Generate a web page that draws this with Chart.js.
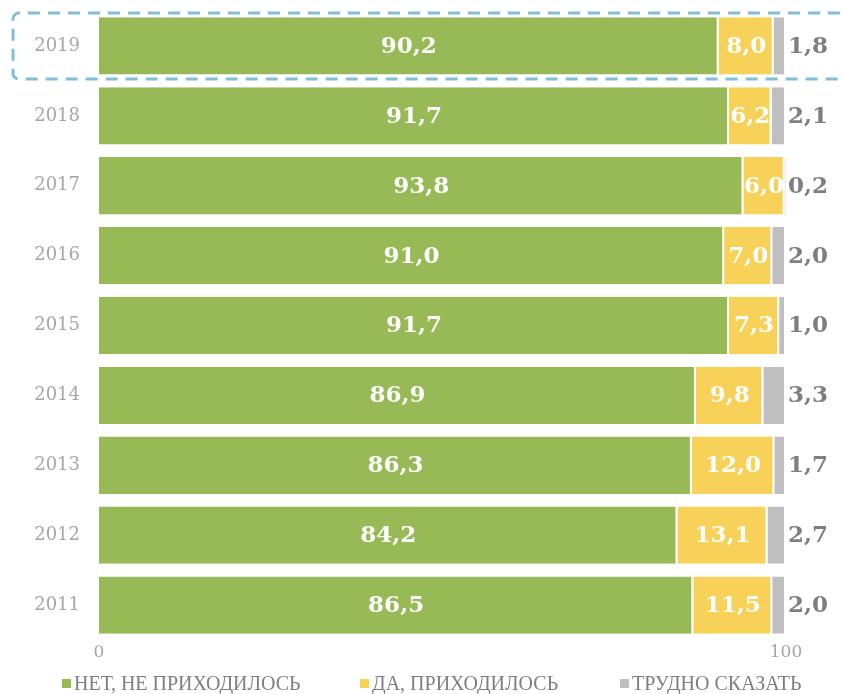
<!DOCTYPE html>
<html>
<head>
<meta charset="utf-8">
<script src="https://cdn.jsdelivr.net/npm/chart.js@4/dist/chart.umd.min.js"></script>
<style>
html,body{margin:0;padding:0;background:#fff;}
#wrap{width:842px;height:694px;position:relative;}
</style>
</head>
<body>
<div id="wrap"><canvas id="c" width="842" height="694"></canvas></div>
<script>
const years = ['2019','2018','2017','2016','2015','2014','2013','2012','2011'];
const seriesNo = [90.2, 91.7, 93.8, 91.0, 91.7, 86.9, 86.3, 84.2, 86.5];
const seriesYes = [8.0, 6.2, 6.0, 7.0, 7.3, 9.8, 12.0, 13.1, 11.5];
const seriesHard = [1.8, 2.1, 0.2, 2.0, 1.0, 3.3, 1.7, 2.7, 2.0];
const seriesNames = ['НЕТ, НЕ ПРИХОДИЛОСЬ', 'ДА, ПРИХОДИЛОСЬ', 'ТРУДНО СКАЗАТЬ'];
const seriesColors = ['#97b956', '#f7d158', '#bfbfbf'];
const xTicks = [0, 100];

const fmt = v => v.toFixed(1).replace('.', ',');

const labelPlugin = {
  id: 'segLabels',
  afterDatasetsDraw(chart) {
    const ctx = chart.ctx;
    ctx.save();
    ctx.font = 'bold 23px "DejaVu Serif", serif';
    ctx.textBaseline = 'middle';
    chart.data.datasets.forEach((ds, di) => {
      const meta = chart.getDatasetMeta(di);
      meta.data.forEach((bar, i) => {
        const v = ds.data[i];
        const left = Math.min(bar.x, bar.base), right = Math.max(bar.x, bar.base);
        ctx.textAlign = 'center';
        if (di < 2) {
          ctx.fillStyle = '#ffffff';
          ctx.fillText(fmt(v), (left + right) / 2, bar.y + 1);
        } else {
          ctx.fillStyle = '#7f7f7f';
          ctx.fillText(fmt(v), right + 22, bar.y + 1);
        }
      });
    });
    ctx.restore();
  }
};

const boxPlugin = {
  id: 'highlightBox',
  afterDraw(chart) {
    const ctx = chart.ctx;
    const y = chart.scales.y.getPixelForValue(0);
    const x0 = 13, x1 = 860, y0 = y - 33, y1 = y + 33, r = 6;
    ctx.save();
    ctx.strokeStyle = '#7fc0d8';
    ctx.lineWidth = 3;
    ctx.setLineDash([12, 8]);
    ctx.beginPath();
    ctx.moveTo(x1, y0);
    ctx.lineTo(x0 + r, y0);
    ctx.arcTo(x0, y0, x0, y0 + r, r);
    ctx.lineTo(x0, y1 - r);
    ctx.arcTo(x0, y1, x0 + r, y1, r);
    ctx.lineTo(x1, y1);
    ctx.stroke();
    ctx.restore();
  }
};

const legendPlugin = {
  id: 'customLegend',
  afterDraw(chart) {
    const ctx = chart.ctx;
    const starts = [62, 360, 620];
    const yc = 684;
    ctx.save();
    ctx.font = '20px "Liberation Serif", serif';
    ctx.textBaseline = 'middle';
    ctx.textAlign = 'left';
    seriesNames.forEach((name, i) => {
      ctx.fillStyle = seriesColors[i];
      ctx.fillRect(starts[i], yc - 5, 9, 9);
      ctx.fillStyle = '#7f7f7f';
      ctx.fillText(name, starts[i] + 12, yc + 1);
    });
    ctx.restore();
  }
};

new Chart(document.getElementById('c'), {
  type: 'bar',
  data: {
    labels: years,
    datasets: [
      { label: seriesNames[0], data: seriesNo, backgroundColor: seriesColors[0] },
      { label: seriesNames[1], data: seriesYes, backgroundColor: seriesColors[1] },
      { label: seriesNames[2], data: seriesHard, backgroundColor: seriesColors[2] }
    ].map(d => Object.assign(d, {
      borderColor: '#ffffff', borderWidth: {left: 0, right: 2, top: 0, bottom: 0}, borderSkipped: false,
      barPercentage: 0.82, categoryPercentage: 1.0
    }))
  },
  options: {
    indexAxis: 'y',
    responsive: false,
    animation: false,
    layout: { padding: { top: 11, right: 56, left: 0, bottom: 28 } },
    scales: {
      x: {
        stacked: true, min: 0, max: 100,
        grid: { display: false, drawTicks: false }, border: { display: false },
        afterBuildTicks(scale) { scale.ticks = xTicks.map(v => ({ value: v })); },
        afterFit(scale) { scale.height = 26; scale.paddingLeft = 0; scale.paddingRight = 0; },
        ticks: { color: '#a6a6a6', font: { family: '"DejaVu Serif", serif', size: 17 }, padding: 2 }
      },
      y: {
        stacked: true,
        grid: { display: false, drawTicks: false }, border: { display: false },
        afterFit(scale) { scale.width = 99; scale.paddingTop = 0; scale.paddingBottom = 0; },
        ticks: { color: '#a6a6a6', font: { family: '"DejaVu Serif", serif', size: 18 }, padding: 19 }
      }
    },
    plugins: {
      legend: { display: false },
      tooltip: { enabled: false }
    }
  },
  plugins: [labelPlugin, boxPlugin, legendPlugin]
});
</script>
</body>
</html>
